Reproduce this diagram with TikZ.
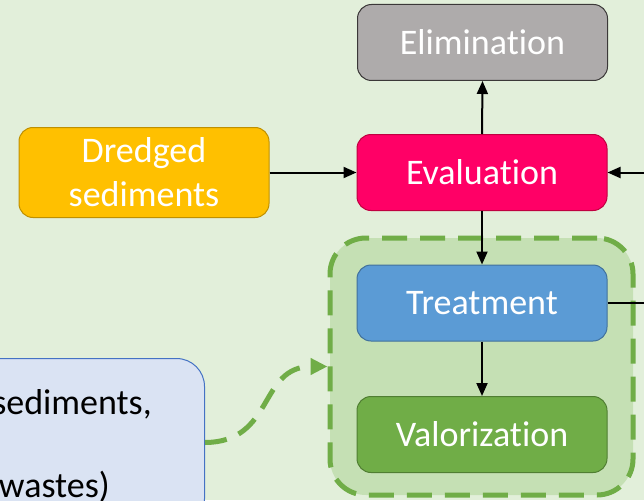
\documentclass[tikz,border=0pt]{standalone}
\usepackage{fontspec}
\setmainfont{Carlito}[RawFeature={-liga;-clig}]
\usetikzlibrary{arrows.meta}
\definecolor{bgc}{HTML}{E2EFDA}
\definecolor{elimc}{HTML}{AEABAB}
\definecolor{elimd}{HTML}{3B3838}
\definecolor{evalc}{HTML}{FF0066}
\definecolor{evald}{HTML}{C00040}
\definecolor{dredc}{HTML}{FFC000}
\definecolor{dredd}{HTML}{BF9000}
\definecolor{treatc}{HTML}{5B9BD5}
\definecolor{treatd}{HTML}{41719C}
\definecolor{valc}{HTML}{70AD47}
\definecolor{vald}{HTML}{507E32}
\definecolor{srcc}{HTML}{DAE3F3}
\definecolor{srcd}{HTML}{4472C4}
\definecolor{grpc}{HTML}{C5E0B4}
\definecolor{grpd}{HTML}{70AD47}
\begin{document}
\begin{tikzpicture}[x=1pt,y=-1pt,
  box/.style={rounded corners=14pt, minimum width=250pt, minimum height=76pt, inner sep=0pt,
    text=white, font=\fontsize{36}{44}\selectfont, line width=1pt, align=center},
  arr/.style={line width=2pt, -{Triangle[length=13pt,width=11pt]}},
  grpbox/.style={draw=grpd, fill=grpc, line width=5pt, dash pattern=on 25pt off 13pt,
    rounded corners=36pt, minimum width=303pt, minimum height=257pt, inner sep=0pt},
  srcbox/.style={draw=srcd, fill=srcc, line width=1pt, rounded corners=28pt,
    minimum width=260pt, minimum height=168pt, inner sep=0pt},
  srctext/.style={font=\fontsize{36}{44}\selectfont, text=black, inner sep=0pt},
  greenarr/.style={draw=grpd, line width=5pt, dash pattern=on 22pt off 13pt,
    -{Triangle[length=17pt,width=16pt,fill=grpd]}}]
\useasboundingbox (0,0) rectangle (644,500);
\clip (0,0) rectangle (644,500);
\fill[bgc] (0,0) rectangle (644,500);
\node[grpbox] (grp) at (481.5,366.5) {};
\node[srcbox, anchor=north east] (src) at (205,358) {};
\node[srctext, anchor=base east] (t1) at (152,414) {sediments,};
\node[srctext, anchor=base east] (t2) at (110,497) {wastes)};
\node[box, fill=elimc, draw=elimd] (elim) at (482.5,42.5) {Elimination};
\node[box, fill=evalc, draw=evald] (eval) at (482,172.5) {Evaluation};
\node[box, fill=dredc, draw=dredd, minimum height=90pt] (dred) at (144,172.5) {Dredged\\sediments};
\node[box, fill=treatc, draw=treatd] (treat) at (482,303) {Treatment};
\node[box, fill=valc, draw=vald] (val) at (482,434.5) {Valorization};
\coordinate (rin) at (646,172.5);
\coordinate (rout) at (646,303);
\draw[arr] (dred.east) -- (eval.west);
\draw[arr] (eval.north) -- (elim.south);
\draw[arr] (rin) -- (eval.east);
\draw[arr] (eval.south) -- (treat.north);
\draw[line width=2pt] (treat.east) -- (rout);
\draw[arr] (treat.south) -- (val.north);
\draw[greenarr] (src.east) .. controls (275,442) and (258,366.5) .. (grp.west);
\end{tikzpicture}
\end{document}
